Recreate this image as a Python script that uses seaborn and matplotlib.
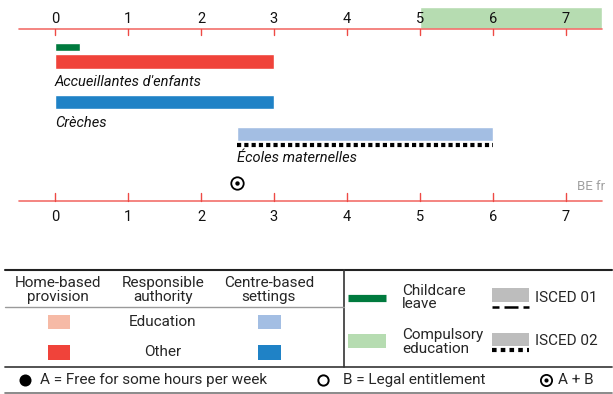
import matplotlib
matplotlib.use("Agg")
import matplotlib.pyplot as plt
import seaborn as sns

# ---- data -------------------------------------------------------------
age_ticks = [0, 1, 2, 3, 4, 5, 6, 7]
compulsory_from = 5          # compulsory education starts at age 5
leave_end = 0.34             # childcare leave, in years of age
setting_names = ["Accueillantes d'enfants", "Crèches", "Écoles maternelles"]
setting_start = [0, 0, 2.5]
setting_end = [3, 3, 6]
setting_kind = ["home_other", "centre_other", "centre_edu"]
setting_isced = [None, None, "ISCED 02"]
entitlement_age = 2.5        # A + B
country = "BE fr"

# ---- style ------------------------------------------------------------
sns.set_theme(style="white")
plt.rcParams["font.family"] = ["Roboto", "DejaVu Sans"]

RED = "#F0433A"
PINK = "#F6BAA6"
BLUE = "#1F82C6"
LBLUE = "#A3BEE3"
DGREEN = "#007A3E"
LGREEN = "#B6DCB1"
AXIS = "#F2706B"
TICK = "#EE4A45"
GREY = "#BDBDBD"
kind_color = {"home_other": RED, "home_edu": PINK,
              "centre_other": BLUE, "centre_edu": LBLUE}

fig = plt.figure(figsize=(6.13, 3.94), dpi=100)

# chart axes: x in years of age, y in pixels from the top
ax = fig.add_axes([0, 0, 1, 1])
ax.set_xlim(-55 / 73, (613 - 55) / 73)
ax.set_ylim(394, 0)
ax.axis("off")

xmin, xmax = -0.49, 7.49
top_y, bot_y = 28.7, 200.7

# compulsory education band
ax.barh(17.7, xmax - compulsory_from, left=compulsory_from, height=22,
        color=LGREEN, zorder=1)

# top and bottom age scales
for y, tick_to, lab_y in [(top_y, top_y + 6.6, 18.5), (bot_y, bot_y - 7.4, 217)]:
    ax.plot([xmin, xmax], [y, y], color=AXIS, lw=1.2, zorder=3)
    for a in age_ticks:
        ax.plot([a, a], [y, tick_to], color=TICK, lw=1.0, zorder=3)
        ax.text(a, lab_y, str(a), ha="center", va="center", fontsize=10.5,
                color="#111111")

# childcare leave
ax.barh(47.2, leave_end, left=0, height=7.5, color=DGREEN, zorder=2)

# settings
bar_y = [61.7, 102.2, 134.0]
bar_h = [15, 14.5, 13.5]
label_y = [81.7, 122.5, 158.0]
for name, s, e, k, isc, y, h, ly in zip(setting_names, setting_start, setting_end,
                                        setting_kind, setting_isced, bar_y, bar_h, label_y):
    ax.barh(y, e - s, left=s, height=h, color=kind_color[k], zorder=2)
    if isc == "ISCED 02":
        ax.plot([s, e], [y + h / 2 + 4.3, y + h / 2 + 4.3], color="black", lw=3.0,
                dashes=(1.0, 0.75), solid_capstyle="butt", dash_capstyle="butt", zorder=2)
    elif isc == "ISCED 01":
        ax.plot([s, e], [y + h / 2 + 4.3, y + h / 2 + 4.3], color="black", lw=2.2,
                dashes=(4, 2), zorder=2)
    ax.text(s, ly, name, ha="left", va="center", fontsize=10.5, style="italic",
            color="#111111")

# entitlement marker (A + B)
sns.scatterplot(x=[entitlement_age], y=[182.7], ax=ax, s=80, marker="o",
                facecolor="white", edgecolor="black", linewidth=1.3, zorder=4,
                legend=False)
sns.scatterplot(x=[entitlement_age], y=[182.7], ax=ax, s=10, marker="o",
                color="black", linewidth=0, zorder=5, legend=False)

ax.text(7.53, 186.5, country, ha="right", va="center", fontsize=9.5, color="#A0A0A0")

# ---- legend (pixel coordinates) --------------------------------------
lg = fig.add_axes([0, 0, 1, 1])
lg.set_xlim(0, 613)
lg.set_ylim(394, 0)
lg.axis("off")

lg.plot([5, 612], [270, 270], color="#222222", lw=1.5)
lg.plot([5, 612], [367.3, 367.3], color="#444444", lw=1.3)
lg.plot([5, 612], [392.7, 392.7], color="#777777", lw=1.2)
lg.plot([344.3, 344.3], [270, 367.3], color="#333333", lw=1.2)
lg.plot([5, 344.3], [306.7, 306.7], color="#9A9A9A", lw=1.0)

fs = 11
for x, txt in [(58, "Home-based\nprovision"), (163, "Responsible\nauthority"),
               (269, "Centre-based\nsettings")]:
    lg.text(x, 290, txt, ha="center", va="center", fontsize=fs, linespacing=0.95)

lg.text(163, 322, "Education", ha="center", va="center", fontsize=fs)
lg.text(163, 352, "Other", ha="center", va="center", fontsize=fs)
for x0, c1, c2 in [(47.7, PINK, RED), (258.3, LBLUE, BLUE)]:
    lg.add_patch(plt.Rectangle((x0, 315), 22.4, 14.3, color=c1, lw=0))
    lg.add_patch(plt.Rectangle((x0, 345), 22.4, 15, color=c2, lw=0))

# leave / compulsory swatches
lg.plot([348.3, 386], [297.7, 297.7], color=DGREEN, lw=5.2, solid_capstyle="butt")
lg.add_patch(plt.Rectangle((348.3, 334), 37.7, 14.3, color=LGREEN, lw=0))
lg.text(402, 297.5, "Childcare\nleave", ha="left", va="center", fontsize=fs,
        linespacing=0.95)
lg.text(402, 342, "Compulsory\neducation", ha="left", va="center", fontsize=fs,
        linespacing=0.95)

# ISCED swatches
lg.add_patch(plt.Rectangle((491.7, 288.3), 37.6, 13.4, color=GREY, lw=0))
lg.plot([491.7, 498.5], [306.7, 306.7], color="black", lw=1.8, solid_capstyle="butt")
lg.plot([503.5, 517.5], [306.7, 306.7], color="black", lw=1.8, solid_capstyle="butt")
lg.plot([522.5, 529.3], [306.7, 306.7], color="black", lw=1.8, solid_capstyle="butt")
lg.add_patch(plt.Rectangle((491.7, 332.7), 37.6, 13.3, color=GREY, lw=0))
lg.plot([491.7, 529.3], [350, 350], color="black", lw=3.0, dashes=(1.1, 1.0),
        dash_capstyle="butt")
lg.text(535, 298.3, "ISCED 01", ha="left", va="center", fontsize=fs)
lg.text(535, 341, "ISCED 02", ha="left", va="center", fontsize=fs)

# entitlement key
lg.scatter([25], [380], s=75, color="black", lw=0)
lg.text(40, 380, "A = Free for some hours per week", ha="left", va="center", fontsize=fs)
lg.scatter([323], [380], s=55, facecolor="white", edgecolor="black", lw=1.4)
lg.text(342.7, 380, "B = Legal entitlement", ha="left", va="center", fontsize=fs)
lg.scatter([545.7], [380], s=65, facecolor="white", edgecolor="black", lw=1.3)
lg.scatter([545.7], [380], s=9, color="black", lw=0)
lg.text(558, 380, "A + B", ha="left", va="center", fontsize=fs)

fig.savefig("out.png", dpi=100)
